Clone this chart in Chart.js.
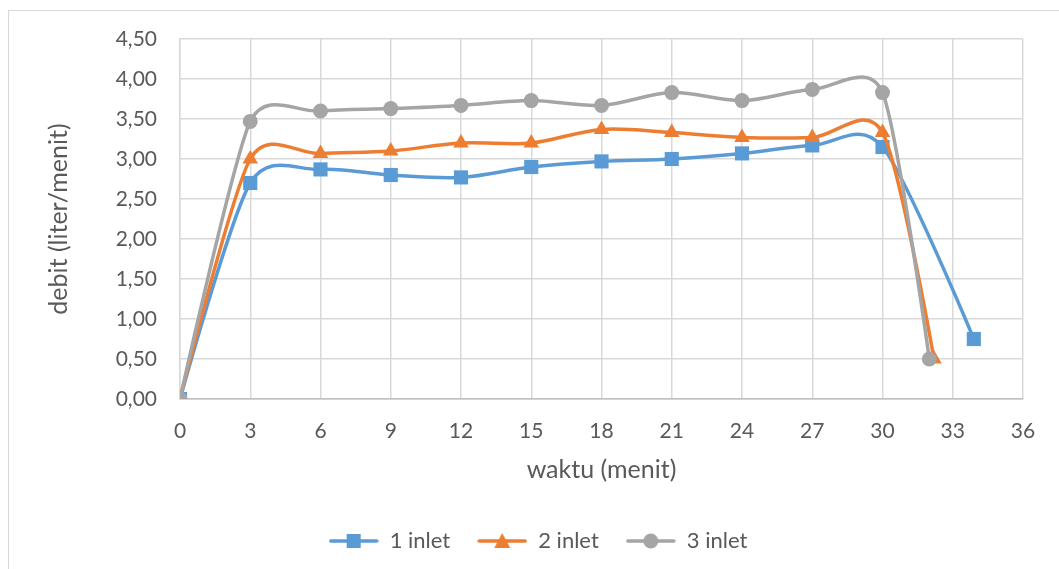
<!DOCTYPE html>
<html>
<head>
<meta charset="utf-8">
<script src="https://cdn.jsdelivr.net/npm/chart.js@4"></script>
<style>
  body { margin: 0; background: #fff; }
  #box { position: absolute; left: 8px; top: 10px; width: 1060px; height: 570px; border: 1px solid #d9d9d9; }
  #wrap { position: absolute; left: 0; top: 0; width: 1050px; height: 558px; }
</style>
</head>
<body>
<div id="box"><div id="wrap"><canvas id="chart"></canvas></div></div>
<script>
// waktu (menit) for each series
const x1 = [0, 3, 6, 9, 12, 15, 18, 21, 24, 27, 30, 33.9];
const x2 = [0, 3, 6, 9, 12, 15, 18, 21, 24, 27, 30, 32.2];
const x3 = [0, 3, 6, 9, 12, 15, 18, 21, 24, 27, 30, 32];

// debit (liter/menit)
const inlet1 = [0, 2.70, 2.87, 2.80, 2.77, 2.90, 2.97, 3.00, 3.07, 3.17, 3.15, 0.75];
const inlet2 = [0, 3.00, 3.07, 3.10, 3.20, 3.20, 3.37, 3.33, 3.27, 3.27, 3.33, 0.50];
const inlet3 = [0, 3.47, 3.60, 3.63, 3.67, 3.73, 3.67, 3.83, 3.73, 3.87, 3.83, 0.50];

const seriesNames = ['1 inlet', '2 inlet', '3 inlet'];
const colors = ['#5b9bd5', '#ed7d31', '#a5a5a5'];
const markers = ['rect', 'triangle', 'circle'];
const radii = [10, 9, 7.5];

const FONT = 'Lato';
const TXT = '#595959';

function pts(xs, ys) {
    return xs.map((x, i) => ({ x: x, y: ys[i] }));
}

// legend sample: short line with the marker in the middle
function legendIcon(i) {
    const c = document.createElement('canvas');
    c.width = 50; c.height = 20;
    const g = c.getContext('2d');
    g.strokeStyle = colors[i];
    g.lineWidth = 3.5;
    g.lineCap = 'round';
    g.beginPath(); g.moveTo(2, 10); g.lineTo(48, 10); g.stroke();
    g.fillStyle = colors[i];
    g.beginPath();
    if (markers[i] === 'rect') {
        g.rect(18, 3, 14, 14);
    } else if (markers[i] === 'triangle') {
        g.moveTo(25, 2); g.lineTo(33, 17); g.lineTo(17, 17); g.closePath();
    } else {
        g.arc(25, 10, 7.5, 0, Math.PI * 2);
    }
    g.fill();
    return c;
}

// legend is centred on the whole box in the original, not just left of the right padding
const legendShift = {
    id: 'legendShift',
    afterLayout(chart) {
        chart.legend.left += 22;
        chart.legend.right += 22;
    }
};

// spreadsheet style smoothing: bezier handles at 1/6 of the neighbour span,
// shortened when one side is much shorter than the other
const excelSmooth = {
    id: 'excelSmooth',
    beforeDatasetsDraw(chart) {
        chart.data.datasets.forEach((ds, di) => {
            const meta = chart.getDatasetMeta(di);
            const p = meta.data;
            for (let i = 0; i < p.length; i++) {
                const a = p[i - 1] || p[i];
                const b = p[i];
                const c = p[i + 1] || p[i];
                const d02 = Math.hypot(c.x - a.x, c.y - a.y);
                const d01 = Math.hypot(b.x - a.x, b.y - a.y);
                const d12 = Math.hypot(c.x - b.x, c.y - b.y);
                let f = 0;
                if (d02 > 0) f = Math.min(1 / 6, d01 / (2 * d02), d12 / (2 * d02));
                b.cp1x = b.x - f * (c.x - a.x);
                b.cp1y = b.y - f * (c.y - a.y);
                b.cp2x = b.x + f * (c.x - a.x);
                b.cp2y = b.y + f * (c.y - a.y);
            }
            meta.dataset._pointsUpdated = true;
            meta.dataset._path = undefined;
        });
    }
};

const allX = [x1, x2, x3];
const allY = [inlet1, inlet2, inlet3];

const datasets = seriesNames.map((name, i) => ({
    label: name,
    data: pts(allX[i], allY[i]),
    borderColor: colors[i],
    backgroundColor: colors[i],
    borderWidth: 3.5,
    pointStyle: markers[i],
    pointRadius: radii[i],
    pointHoverRadius: radii[i],
    pointBorderWidth: 0,
    tension: 0.5,
    order: 2 - i
}));

new Chart(document.getElementById('chart'), {
    type: 'line',
    data: { datasets: datasets },
    plugins: [legendShift, excelSmooth],
    options: {
        responsive: true,
        maintainAspectRatio: false,
        animation: false,
        layout: { padding: { top: 28, right: 36, left: 0, bottom: 7 } },
        scales: {
            x: {
                type: 'linear',
                min: 0,
                max: 36,
                ticks: { stepSize: 3, color: TXT, font: { family: FONT, size: 21 }, padding: 20 },
                grid: { color: '#d9d9d9', lineWidth: 1.5, drawTicks: false },
                border: { color: '#bfbfbf', width: 1.5 },
                title: { display: true, text: 'waktu (menit)', color: TXT, font: { family: FONT, size: 25 }, padding: { top: 4, bottom: 18 } },
                afterFit: (s) => { s.height = 104; }
            },
            y: {
                min: 0,
                max: 4.5,
                ticks: {
                    stepSize: 0.5, color: TXT, font: { family: FONT, size: 21 }, padding: 15,
                    callback: (v) => v.toFixed(2).replace('.', ',')
                },
                grid: { color: '#d9d9d9', lineWidth: 1.5, drawTicks: true, tickLength: 8, tickColor: 'rgba(0,0,0,0)' },
                border: { color: '#d9d9d9', width: 1.5 },
                title: { display: true, text: 'debit (liter/menit)', color: TXT, font: { family: FONT, size: 25 }, padding: { top: 35 } },
                afterFit: (s) => { s.width = 171; }
            }
        },
        plugins: {
            legend: {
                position: 'bottom',
                labels: {
                    usePointStyle: true,
                    pointStyleWidth: 50,
                    padding: 27,
                    color: TXT,
                    font: { family: FONT, size: 22 },
                    generateLabels: () => seriesNames.map((name, i) => ({
                        text: name,
                        pointStyle: legendIcon(i),
                        fillStyle: colors[i],
                        strokeStyle: colors[i],
                        lineWidth: 0,
                        fontColor: TXT,
                        datasetIndex: i
                    }))
                }
            },
            tooltip: { enabled: false }
        }
    }
});
</script>
</body>
</html>
